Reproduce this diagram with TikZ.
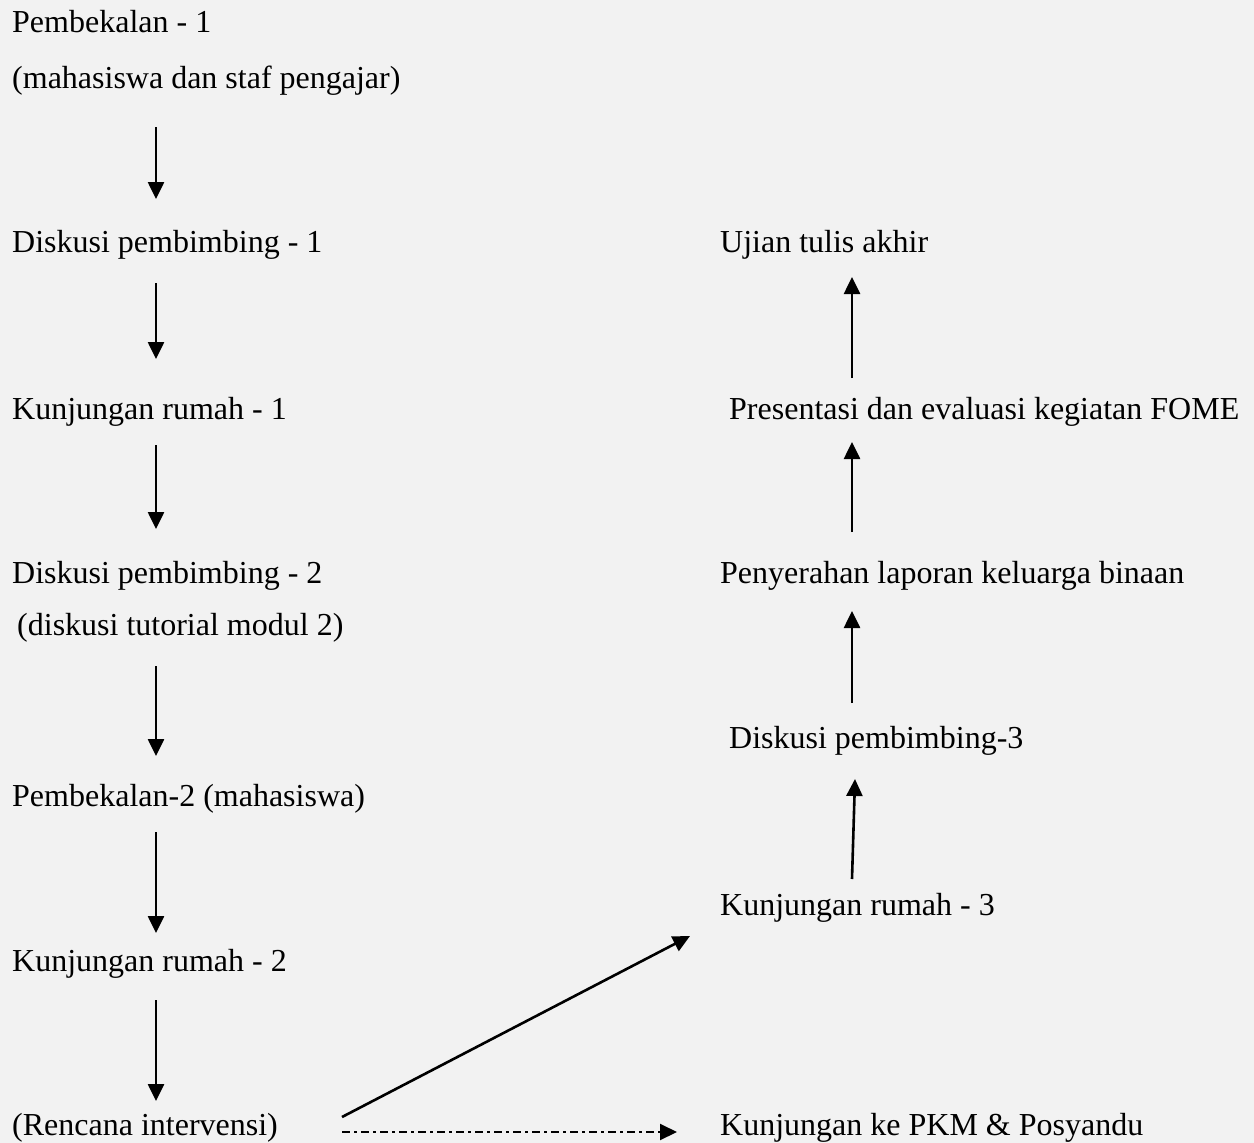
\documentclass[tikz,border=0pt]{standalone}
\usepackage{fontspec}
\setmainfont{Liberation Serif}
\usetikzlibrary{arrows.meta}
\begin{document}
\begin{tikzpicture}[x=1pt,y=-1pt,
  lbl/.style={anchor=base west,inner sep=0pt,font=\fontsize{32}{36}\selectfont},
  arr/.style={line width=2.6pt,-{Triangle[width=16pt,length=17pt]}},
  dasharr/.style={line width=2pt,dash pattern=on 8pt off 4pt on 3pt off 4pt,-{Triangle[width=16pt,length=17pt]}}]
\fill[fill={rgb,255:red,242;green,242;blue,242}] (0,0) rectangle (1254,1143);
\useasboundingbox (0,0) rectangle (1254,1143);
% left column
\node[lbl] (p1) at (12,32) {Pembekalan - 1};
\node[lbl] (p1b) at (12,88) {(mahasiswa dan staf pengajar)};
\node[lbl] (d1) at (12,252) {Diskusi pembimbing - 1};
\node[lbl] (k1) at (12,419) {Kunjungan rumah - 1};
\node[lbl] (d2) at (12,583) {Diskusi pembimbing - 2};
\node[lbl] (d2b) at (17,635) {(diskusi tutorial modul 2)};
\node[lbl] (p2) at (12,806) {Pembekalan-2 (mahasiswa)};
\node[lbl] (k2) at (12,971) {Kunjungan rumah - 2};
\node[lbl] (ri) at (12,1135) {(Rencana intervensi)};
% right column
\node[lbl] (u) at (720,252) {Ujian tulis akhir};
\node[lbl] (pe) at (729,419) {Presentasi dan evaluasi kegiatan FOME};
\node[lbl] (pl) at (720,583) {Penyerahan laporan keluarga binaan};
\node[lbl] (d3) at (729,748) {Diskusi pembimbing-3};
\node[lbl] (k3) at (720,915) {Kunjungan rumah - 3};
\node[lbl] (pkm) at (720,1135) {Kunjungan ke PKM \& Posyandu};
% arrow end points
\coordinate (a1s) at (156,127); \coordinate (a1e) at (156,199);
\coordinate (a2s) at (156,283); \coordinate (a2e) at (156,359);
\coordinate (a3s) at (156,445); \coordinate (a3e) at (156,529);
\coordinate (a4s) at (156,666); \coordinate (a4e) at (156,756);
\coordinate (a5s) at (156,832); \coordinate (a5e) at (156,933);
\coordinate (a6s) at (156,1000); \coordinate (a6e) at (156,1101);
\coordinate (b1s) at (342,1117); \coordinate (b1e) at (690,936);
\coordinate (b2s) at (342,1132); \coordinate (b2e) at (677,1132);
\coordinate (c1s) at (852,879); \coordinate (c1e) at (855,779);
\coordinate (c2s) at (852,703); \coordinate (c2e) at (852,611);
\coordinate (c3s) at (852,532); \coordinate (c3e) at (852,442);
\coordinate (c4s) at (852,378); \coordinate (c4e) at (852,277);
\foreach \s/\e in {a1s/a1e,a2s/a2e,a3s/a3e,a4s/a4e,a5s/a5e,a6s/a6e,b1s/b1e,c1s/c1e,c2s/c2e,c3s/c3e,c4s/c4e}
  \draw[arr] (\s) -- (\e);
\draw[dasharr] (b2s) -- (b2e);
\end{tikzpicture}
\end{document}
